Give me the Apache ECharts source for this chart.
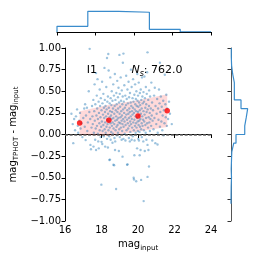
<!DOCTYPE html>
<html><head><meta charset="utf-8">
<script src="https://cdn.jsdelivr.net/npm/echarts@6/dist/echarts.min.js"></script>
<style>html,body{margin:0;padding:0;background:#fff}#c{width:258px;height:258px}</style>
</head><body><div id="c"></div>
<script>
// scatter points [mag_input, mag_TPHOT - mag_input]
const points = [
[16.35,0.24],[16.42,0.12],[16.45,-0.10],[16.5,0.18],[16.55,0.05],[16.6,0.21],[16.66,0.29],[16.7,0.10],[16.72,0.02],[16.78,0.16],[16.82,0.25],[16.85,0.07],[16.9,0.13],[16.95,-0.03],[17.0,0.19],[17.05,0.30],[17.08,0.09],[17.1,0.35],[17.13,-0.065],[17.15,0.22],[17.2,0.31],[17.22,0.04],[17.25,0.14],[17.3,0.50],[17.33,0.26],[17.35,0.99],[17.38,0.18],[17.39,-0.12],[17.42,-0.17],[17.45,0.08],[17.48,0.33],[17.5,0.21],
[17.52,0.12],[17.55,0.40],[17.56,-0.14],[17.58,0.02],[17.6,0.27],[17.62,0.58],[17.63,0.16],[17.65,-0.06],[17.66,0.35],[17.68,0.07],[17.7,0.71],[17.7,-0.18],[17.72,0.22],[17.74,0.45],[17.75,0.10],[17.76,0.30],[17.78,0.64],[17.8,0.01],[17.8,0.18],[17.82,-0.08],[17.84,0.38],[17.85,-0.16],[17.86,0.25],[17.88,0.13],[17.9,0.52],[17.9,0.05],[17.92,0.33],[17.94,0.20],[17.95,-0.03],[17.96,0.42],[17.98,0.09],[17.99,-0.58],[18.0,0.28],[18.0,-0.085],[18.02,0.15],[18.03,0.61],[18.04,-0.11],[18.05,0.36],[18.06,0.04],[18.08,0.23],[18.1,0.47],[18.1,0.11],[18.12,-0.02],[18.13,0.31],[18.15,0.19],[18.16,0.77],[18.17,0.06],[18.18,0.40],[18.19,0.26],[18.2,-0.14],[18.2,0.14],
[18.22,0.33],[18.23,0.02],[18.25,0.21],[18.26,0.55],[18.27,0.09],[18.28,0.29],[18.3,0.885],[18.3,-0.05],[18.31,0.17],[18.32,0.38],[18.33,0.12],[18.35,0.44],[18.35,-0.15],[18.36,0.24],[18.37,0.93],[18.38,0.05],[18.39,0.74],[18.4,0.31],[18.4,0.15],[18.42,-0.02],[18.43,-0.295],[18.44,0.20],[18.45,0.36],[18.45,0.08],[18.46,-0.29],[18.47,0.27],[18.48,0.66],[18.49,0.13],[18.5,0.42],[18.5,-0.06],[18.52,0.22],[18.53,0.03],[18.54,0.34],[18.55,0.18],[18.56,0.50],[18.57,0.10],[18.58,0.26],[18.6,-0.095],[18.6,0.39],[18.61,0.14],[18.62,0.01],[18.63,0.30],[18.64,0.58],[18.65,-0.35],[18.65,0.19],[18.66,0.07],[18.68,0.45],[18.69,-0.356],[18.7,0.24],[18.7,0.12],[18.71,-0.04],[18.72,0.33],[18.73,0.70],[18.74,-0.18],[18.75,0.16],[18.75,-0.08],[18.76,0.40],[18.77,0.05],[18.78,0.28],[18.8,-0.63],[18.8,0.21],[18.81,0.48],[18.82,0.09],[18.83,0.35],[18.84,-0.01],[18.85,0.17],[18.86,0.62],[18.87,0.26],[18.88,0.11],[18.9,0.43],[18.9,0.02],[18.91,0.30],[18.92,0.19],[18.93,0.54],[18.95,-0.19],[18.95,0.14],[18.96,0.37],[18.97,0.06],[18.98,0.92],[18.99,0.24],[19.0,0.47],[19.0,-0.03],[19.02,0.32],[19.03,0.13],[19.04,0.20],[19.05,0.66],[19.06,0.08],[19.07,0.39],[19.08,0.27],[19.1,0.16],[19.1,-0.06],[19.11,0.51],[19.12,0.22],[19.13,0.04],[19.14,0.35],[19.15,-0.256],[19.15,0.12],[19.16,0.44],[19.17,0.83],[19.18,0.29],[19.19,0.18],[19.2,0.935],[19.2,-0.05],
[19.21,0.09],[19.22,0.38],[19.24,0.25],[19.25,0.57],[19.26,0.15],[19.27,0.01],[19.28,0.31],[19.3,0.45],[19.3,0.20],[19.31,-0.07],[19.32,0.11],[19.34,0.34],[19.35,0.68],[19.36,0.23],[19.37,0.05],[19.38,0.41],[19.4,0.17],[19.4,-0.35],[19.41,0.28],[19.42,0.52],[19.43,-0.345],[19.44,0.13],[19.45,0.36],[19.46,0.07],[19.47,0.24],[19.48,0.61],[19.5,0.19],[19.5,-0.04],[19.51,0.43],[19.52,0.30],[19.53,0.10],[19.55,0.26],[19.55,-0.08],[19.56,0.48],[19.57,0.15],[19.58,0.03],[19.6,0.37],[19.6,0.21],[19.61,0.75],[19.62,0.12],[19.63,0.33],[19.65,-0.06],[19.65,0.55],[19.66,0.18],[19.67,0.27],[19.68,0.08],[19.7,0.42],[19.7,0.23],[19.71,-0.02],[19.72,0.31],[19.73,0.64],[19.74,0.14],[19.75,0.38],[19.76,-0.50],[19.77,0.05],[19.78,0.25],[19.78,-0.52],[19.8,0.46],[19.8,-0.24],[19.8,0.17],[19.81,-0.07],[19.82,0.29],[19.83,0.10],[19.84,0.58],[19.85,0.35],[19.86,0.21],[19.87,0.02],[19.88,0.41],[19.89,0.13],[19.9,-0.54],[19.9,0.27],[19.91,0.50],[19.92,0.08],[19.93,0.33],[19.95,-0.16],[19.95,0.19],[19.96,0.70],[19.97,0.39],[19.98,0.15],[19.99,0.04],[20.0,0.26],[20.0,0.45],[20.01,-0.05],[20.02,0.32],[20.03,0.11],[20.04,0.60],[20.05,-0.07],[20.05,0.22],[20.06,0.37],[20.07,0.16],[20.08,0.03],[20.09,-0.24],[20.1,0.48],[20.1,0.28],[20.11,0.09],[20.12,0.34],[20.13,0.18],[20.14,-0.18],[20.15,0.52],[20.16,0.24],[20.17,-0.525],[20.17,0.06],[20.18,0.40],[20.2,0.13],[20.2,0.30],[20.21,-0.03],[20.22,0.66],[20.23,0.21],[20.24,0.44],[20.25,0.10],[20.26,0.36],[20.28,0.17],[20.29,-0.08],[20.3,0.49],[20.3,0.27],[20.31,-0.77],[20.32,0.05],[20.33,0.38],[20.34,0.15],[20.35,0.67],[20.36,0.23],[20.37,-0.19],[20.38,0.42],[20.4,0.11],[20.4,0.31],[20.42,0.02],[20.43,0.55],[20.44,0.19],[20.45,0.35],[20.46,-0.06],[20.47,0.26],[20.48,0.47],[20.5,0.13],[20.5,0.72],[20.52,0.95],[20.52,-0.12],[20.52,-0.49],[20.53,0.29],[20.55,0.08],[20.56,0.40],[20.57,-0.18],[20.58,0.20],[20.6,-0.37],[20.6,0.33],[20.61,0.51],[20.62,0.14],[20.64,0.25],[20.65,0.04],[20.66,0.44],[20.68,0.18],[20.7,0.30],[20.72,0.10],[20.73,0.60],[20.75,0.22],[20.77,0.37],[20.78,-0.07],[20.8,0.16],
[20.82,0.28],[20.85,0.06],[20.88,0.45],[20.9,0.19],[20.92,0.54],[20.95,-0.10],[20.96,0.33],[21.0,0.12],[21.02,0.24],[21.05,0.41],[21.07,-0.115],[21.08,0.02],[21.1,0.30],[21.12,0.17],[21.15,0.52],[21.18,0.36],[21.2,0.83],[21.2,0.09],[21.22,0.26],[21.25,0.44],[21.28,0.15],[21.3,0.32],[21.33,0.05],[21.35,0.22],[21.38,0.39],[21.4,-0.01],[21.42,0.28],[21.45,0.13],[21.47,0.69],[21.5,0.35],[21.52,0.20],[21.55,0.46],[21.58,0.10],[21.6,0.30],[21.65,0.18],[21.7,0.38],[21.75,0.24],[21.85,0.12]
];
// binned statistics (red dots and pink band)
const binCenters = [16.8, 18.4, 20.0, 21.6];
const binMeans = [0.134, 0.164, 0.215, 0.276];
const binStds = [0.136, 0.18, 0.18, 0.19];
// top marginal histogram
const xHistEdges = [16, 17.6, 19.2, 20.8, 22.4, 24];
const xHistCounts = [88, 321, 306, 42, 4];
// right marginal histogram (bins from bottom to top)
const yHistEdges = [-0.8,-0.7,-0.6,-0.5,-0.4,-0.3,-0.2,-0.1,0.0,0.1,0.2,0.3,0.4,0.5,0.6,0.7,0.8,0.9,1.0];
const yHistCounts = [1,2,5,2,5,8,28,51,140,156,170,102,34,34,17,6,3,3];
const xTicks = [16, 18, 20, 22, 24];
const yTicks = [-1.0, -0.75, -0.5, -0.25, 0, 0.25, 0.5, 0.75, 1.0];
const bandName = 'I1';
const nSources = 762.0;

const FONT = 'DejaVu Sans';
const xHistLine = [[xHistEdges[0], 0]];
xHistCounts.forEach((c, i) => { xHistLine.push([xHistEdges[i], c]); xHistLine.push([xHistEdges[i + 1], c]); });
xHistLine.push([xHistEdges[xHistEdges.length - 1], 0]);
const yHistLine = [[0, yHistEdges[0]]];
yHistCounts.forEach((c, i) => { yHistLine.push([c, yHistEdges[i]]); yHistLine.push([c, yHistEdges[i + 1]]); });
yHistLine.push([0, yHistEdges[yHistEdges.length - 1]]);

const chart = echarts.init(document.getElementById('c'), null, {renderer: 'canvas'});
const axisCol = '#000';
const fmt = v => Number(v).toFixed(2).replace('-', '\u2212');
chart.setOption({
  animation: false,
  backgroundColor: '#fff',
  grid: [
    {left: 57, top: 48, width: 154, height: 173},
    {left: 57, top: 8, width: 154, height: 24},
    {left: 231, top: 48, width: 26, height: 173}
  ],
  xAxis: [
    {gridIndex: 0, type: 'value', min: xTicks[0], max: xTicks[xTicks.length - 1], interval: 2,
     axisLine: {lineStyle: {color: axisCol, width: 1}}, axisTick: {length: 3.5, lineStyle: {color: axisCol}},
     axisLabel: {fontFamily: FONT, fontSize: 10, color: '#000', margin: 4}, splitLine: {show: false},
     name: '{n|mag}{s|input}', nameLocation: 'middle', nameGap: 11,
     nameTextStyle: {rich: {n: {fontFamily: FONT, fontSize: 10, color: '#000', lineHeight: 13},
                            s: {fontFamily: FONT, fontSize: 7, color: '#000', lineHeight: 8, verticalAlign: 'bottom'}}}},
    {gridIndex: 1, type: 'value', min: 16, max: 24, interval: 2,
     axisLine: {lineStyle: {color: axisCol, width: 1}}, axisTick: {length: 3.5, lineStyle: {color: axisCol}},
     axisLabel: {show: false}, splitLine: {show: false}},
    {gridIndex: 2, type: 'value', min: 0, max: 265, show: false}
  ],
  yAxis: [
    {gridIndex: 0, type: 'value', min: -1, max: 1, interval: 0.25,
     axisLine: {show: true, lineStyle: {color: axisCol, width: 1}}, axisTick: {show: true, length: 3.5, lineStyle: {color: axisCol}},
     axisLabel: {fontFamily: FONT, fontSize: 10, color: '#000', margin: 4, formatter: fmt}, splitLine: {show: false},
     name: '{n|mag}{s|TPHOT}{n| - mag}{s|input}', nameLocation: 'middle', nameGap: 36,
     nameTextStyle: {rich: {n: {fontFamily: FONT, fontSize: 10, color: '#000', lineHeight: 13},
                            s: {fontFamily: FONT, fontSize: 7, color: '#000', lineHeight: 8, verticalAlign: 'bottom'}}}},
    {gridIndex: 1, type: 'value', min: 0, max: 372, show: false},
    {gridIndex: 2, type: 'value', min: -1, max: 1, interval: 0.25,
     axisLine: {show: true, lineStyle: {color: '#555', width: 1}}, axisTick: {show: true, length: 3.5, lineStyle: {color: '#333'}},
     axisLabel: {show: false}, splitLine: {show: false}}
  ],
  series: [
    {type: 'custom', xAxisIndex: 0, yAxisIndex: 0, data: [[binCenters[0], binMeans[0]]], z: 1, silent: true,
     renderItem: (params, api) => {
       const up = binCenters.map((x, i) => api.coord([x, binMeans[i] + binStds[i]]));
       const lo = binCenters.map((x, i) => api.coord([x, binMeans[i] - binStds[i]])).reverse();
       return {type: 'polygon', shape: {points: up.concat(lo)}, style: {fill: 'rgba(255,0,0,0.15)', stroke: 'none'}};
     }},
    {type: 'scatter', xAxisIndex: 0, yAxisIndex: 0, data: points, symbol: 'circle', symbolSize: 2.4, z: 2,
     itemStyle: {color: 'rgba(31,119,180,0.55)'}, silent: true},
    {type: 'line', xAxisIndex: 0, yAxisIndex: 0, data: [], z: 3, silent: true,
     markLine: {silent: true, symbol: 'none', label: {show: false}, data: [{yAxis: 0}],
                lineStyle: {type: [3, 1.6], color: '#666', width: 1.5}}},
    {type: 'scatter', xAxisIndex: 0, yAxisIndex: 0, data: binCenters.map((x, i) => [x, binMeans[i]]),
     symbol: 'circle', symbolSize: 5.5, z: 4, itemStyle: {color: '#ff0000'}, silent: true},
    {type: 'line', xAxisIndex: 1, yAxisIndex: 1, data: xHistLine, showSymbol: false, silent: true,
     lineStyle: {color: '#3a8ccc', width: 1.2}},
    {type: 'line', xAxisIndex: 2, yAxisIndex: 2, data: yHistLine, showSymbol: false, silent: true,
     lineStyle: {color: '#3a8ccc', width: 1.2}}
  ]
});
const p1 = chart.convertToPixel({gridIndex: 0}, [17.19, 0.74]);
const p2 = chart.convertToPixel({gridIndex: 0}, [19.64, 0.74]);
chart.setOption({
  graphic: [
    {type: 'text', x: p1[0], y: p1[1], silent: true,
     style: {text: bandName, fontFamily: FONT, fontSize: 11, fill: '#000', align: 'left', verticalAlign: 'middle'}},
    {type: 'text', x: p2[0], y: p2[1], silent: true,
     style: {text: '{i|N}{s|s}{n|: ' + nSources.toFixed(1) + '}', align: 'left', verticalAlign: 'middle',
       rich: {i: {fontFamily: FONT, fontStyle: 'italic', fontSize: 11, fill: '#000', lineHeight: 14},
              s: {fontFamily: FONT, fontStyle: 'italic', fontSize: 8, fill: '#000', lineHeight: 9, verticalAlign: 'bottom'},
              n: {fontFamily: FONT, fontSize: 11, fill: '#000', lineHeight: 14}}}}
  ]
});
</script></body></html>
